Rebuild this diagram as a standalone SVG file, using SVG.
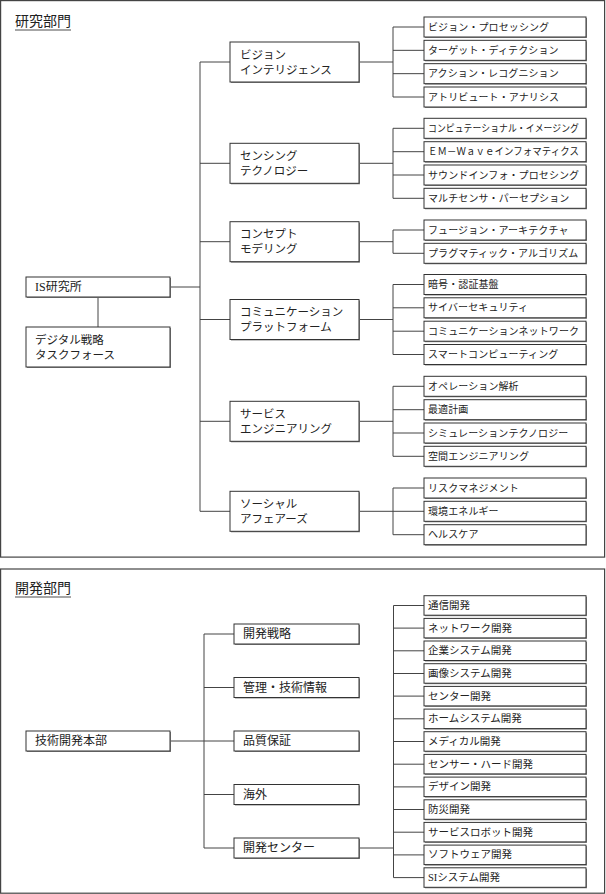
<svg xmlns="http://www.w3.org/2000/svg" width="606" height="894" viewBox="0 0 606 894">
<style>
  text { font-family: "Liberation Serif", "Noto Sans CJK JP", serif; fill: #222; dominant-baseline: central; }
  .panel { fill: #fff; stroke: #444; stroke-width: 1.2; }
  .title { font-size: 14px; dominant-baseline: auto; }
  .uline { stroke: #888; stroke-width: 1.5; }
  .box { fill: #fff; stroke: #333; stroke-width: 1; }
  .sh { fill: #8a8a8a; }
  .line { stroke: #444; stroke-width: 1; fill: none; }
  .t1 { font-size: 10px; letter-spacing: 0.1px; }
  .t2 { font-size: 11.5px; }
  .t3 { font-size: 12px; }
  .t4 { font-size: 10.5px; }
</style>
<defs>
  <g id="rb"><rect class="sh" x="1" y="1" width="162" height="20"/><rect class="box" x="0" y="0" width="162" height="20"/></g>
  <g id="rb2"><rect class="sh" x="1" y="1" width="162" height="19.5"/><rect class="box" x="0" y="0" width="162" height="19.5"/></g>
  <g id="mb"><rect class="sh" x="1" y="1" width="129" height="40"/><rect class="box" x="0" y="0" width="129" height="40"/></g>
  <g id="mb2"><rect class="sh" x="1" y="1" width="125" height="20"/><rect class="box" x="0" y="0" width="125" height="20"/></g>
  <g id="lb"><rect class="sh" x="1" y="1" width="144" height="20"/><rect class="box" x="0" y="0" width="144" height="20"/></g>
  <g id="lb2"><rect class="sh" x="1" y="1" width="144" height="40"/><rect class="box" x="0" y="0" width="144" height="40"/></g>
</defs>

<g id="panels">
  <rect class="panel" x="0.6" y="0.6" width="604" height="556.5"/>
  <text class="title" x="15" y="26">研究部門</text>
  <line class="uline" x1="15" y1="30" x2="71" y2="30"/>
  <rect class="panel" x="0.6" y="569" width="604" height="324.2"/>
  <text class="title" x="15" y="593">開発部門</text>
  <line class="uline" x1="15" y1="597" x2="71" y2="597"/>
</g>

<g id="connectors">
  <path class="line" d="M200 62 V511.3 M170 287 H200 M98 297 V327"/>
  <path class="line" d="M200 62 H230 M200 163.3 H230 M200 241.7 H230 M200 319.5 H230 M200 421.3 H230 M200 511.3 H230"/>
  <path class="line" d="M359 62 H393 M393 27 V97 M393 27 H424 M393 50.33 H424 M393 73.67 H424 M393 97 H424"/>
  <path class="line" d="M359 163.3 H393 M393 128.3 V198.3 M393 128.3 H424 M393 151.7 H424 M393 175 H424 M393 198.3 H424"/>
  <path class="line" d="M359 241.7 H393 M393 230 V253.3 M393 230 H424 M393 253.3 H424"/>
  <path class="line" d="M359 319.5 H393 M393 284.5 V354.5 M393 284.5 H424 M393 307.8 H424 M393 331.2 H424 M393 354.5 H424"/>
  <path class="line" d="M359 421.3 H393 M393 386.3 V456.3 M393 386.3 H424 M393 409.7 H424 M393 433 H424 M393 456.3 H424"/>
  <path class="line" d="M359 511.3 H393 M393 488 V534.7 M393 488 H424 M393 511.3 H424 M393 534.7 H424"/>
  <path class="line" d="M170 741 H234 M204 634 V848 M204 634 H234 M204 687.5 H234 M204 794.5 H234 M204 848 H234"/>
  <path class="line" d="M359 848 H393.5 M393.5 605.5 V877.6"/>
  <path class="line" d="M393.5 605.5 H424 M393.5 628.1 H424 M393.5 650.8 H424 M393.5 673.5 H424 M393.5 696.1 H424 M393.5 718.8 H424 M393.5 741.5 H424 M393.5 764.2 H424 M393.5 786.9 H424 M393.5 809.5 H424 M393.5 832.2 H424 M393.5 854.9 H424 M393.5 877.6 H424"/>
</g>

<g id="is-lab"><use href="#lb" x="26" y="277"/><text class="t3" x="35" y="287">IS研究所</text></g>
<g id="digital-tf"><use href="#lb2" x="26" y="327"/><text class="t2" x="35" y="339.5">デジタル戦略</text><text class="t2" x="35" y="354.5">タスクフォース</text></g>

<g id="vision"><use href="#mb" x="230" y="42"/><text class="t2" x="240" y="54.5">ビジョン</text><text class="t2" x="240" y="69.5">インテリジェンス</text></g>
<g id="sensing"><use href="#mb" x="230" y="143.3"/><text class="t2" x="240" y="155.8">センシング</text><text class="t2" x="240" y="170.8">テクノロジー</text></g>
<g id="concept"><use href="#mb" x="230" y="221.7"/><text class="t2" x="240" y="234.2">コンセプト</text><text class="t2" x="240" y="249.2">モデリング</text></g>
<g id="comm"><use href="#mb" x="230" y="299.5"/><text class="t2" x="240" y="312">コミュニケーション</text><text class="t2" x="240" y="327">プラットフォーム</text></g>
<g id="service"><use href="#mb" x="230" y="401.3"/><text class="t2" x="240" y="413.8">サービス</text><text class="t2" x="240" y="428.8">エンジニアリング</text></g>
<g id="social"><use href="#mb" x="230" y="491.3"/><text class="t2" x="240" y="503.8">ソーシャル</text><text class="t2" x="240" y="518.8">アフェアーズ</text></g>

<g id="r1"><use href="#rb" x="424" y="17"/><text class="t1" x="428" y="27">ビジョン・プロセッシング</text></g>
<g id="r2"><use href="#rb" x="424" y="40.33"/><text class="t1" x="428" y="50.33">ターゲット・ディテクション</text></g>
<g id="r3"><use href="#rb" x="424" y="63.67"/><text class="t1" x="428" y="73.67">アクション・レコグニション</text></g>
<g id="r4"><use href="#rb" x="424" y="87"/><text class="t1" x="428" y="97">アトリビュート・アナリシス</text></g>
<g id="r5"><use href="#rb" x="424" y="118.3"/><text class="t1" x="428" y="128.3" textLength="151" lengthAdjust="spacingAndGlyphs">コンピュテーショナル・イメージング</text></g>
<g id="r6"><use href="#rb" x="424" y="141.7"/><text class="t1" x="428" y="151.7" textLength="151" lengthAdjust="spacingAndGlyphs">ＥＭ－Ｗａｖｅインフォマティクス</text></g>
<g id="r7"><use href="#rb" x="424" y="165"/><text class="t1" x="428" y="175">サウンドインフォ・プロセシング</text></g>
<g id="r8"><use href="#rb" x="424" y="188.3"/><text class="t1" x="428" y="198.3">マルチセンサ・パーセプション</text></g>
<g id="r9"><use href="#rb" x="424" y="220"/><text class="t1" x="428" y="230">フュージョン・アーキテクチャ</text></g>
<g id="r10"><use href="#rb" x="424" y="243.3"/><text class="t1" x="428" y="253.3">プラグマティック・アルゴリズム</text></g>
<g id="r11"><use href="#rb" x="424" y="274.5"/><text class="t1" x="428" y="284.5">暗号・認証基盤</text></g>
<g id="r12"><use href="#rb" x="424" y="297.8"/><text class="t1" x="428" y="307.8">サイバーセキュリティ</text></g>
<g id="r13"><use href="#rb" x="424" y="321.2"/><text class="t1" x="428" y="331.2">コミュニケーションネットワーク</text></g>
<g id="r14"><use href="#rb" x="424" y="344.5"/><text class="t1" x="428" y="354.5">スマートコンピューティング</text></g>
<g id="r15"><use href="#rb" x="424" y="376.3"/><text class="t1" x="428" y="386.3">オペレーション解析</text></g>
<g id="r16"><use href="#rb" x="424" y="399.7"/><text class="t1" x="428" y="409.7">最適計画</text></g>
<g id="r17"><use href="#rb" x="424" y="423"/><text class="t1" x="428" y="433">シミュレーションテクノロジー</text></g>
<g id="r18"><use href="#rb" x="424" y="446.3"/><text class="t1" x="428" y="456.3">空間エンジニアリング</text></g>
<g id="r19"><use href="#rb" x="424" y="478"/><text class="t1" x="428" y="488">リスクマネジメント</text></g>
<g id="r20"><use href="#rb" x="424" y="501.3"/><text class="t1" x="428" y="511.3">環境エネルギー</text></g>
<g id="r21"><use href="#rb" x="424" y="524.7"/><text class="t1" x="428" y="534.7">ヘルスケア</text></g>

<g id="hq"><use href="#lb" x="26" y="731"/><text class="t3" x="35" y="741">技術開発本部</text></g>
<g id="d-strategy"><use href="#mb2" x="234" y="624"/><text class="t3" x="243" y="634">開発戦略</text></g>
<g id="d-mgmt"><use href="#mb2" x="234" y="677.5"/><text class="t3" x="243" y="687.5">管理・技術情報</text></g>
<g id="d-qa"><use href="#mb2" x="234" y="731"/><text class="t3" x="243" y="741">品質保証</text></g>
<g id="d-overseas"><use href="#mb2" x="234" y="784.5"/><text class="t3" x="243" y="794.5">海外</text></g>
<g id="d-center"><use href="#mb2" x="234" y="838"/><text class="t3" x="243" y="848">開発センター</text></g>

<g id="c1"><use href="#rb2" x="424" y="595.7"/><text class="t4" x="428" y="605.5">通信開発</text></g>
<g id="c2"><use href="#rb2" x="424" y="618.4"/><text class="t4" x="428" y="628.1">ネットワーク開発</text></g>
<g id="c3"><use href="#rb2" x="424" y="641"/><text class="t4" x="428" y="650.8">企業システム開発</text></g>
<g id="c4"><use href="#rb2" x="424" y="663.7"/><text class="t4" x="428" y="673.5">画像システム開発</text></g>
<g id="c5"><use href="#rb2" x="424" y="686.4"/><text class="t4" x="428" y="696.1">センター開発</text></g>
<g id="c6"><use href="#rb2" x="424" y="709.1"/><text class="t4" x="428" y="718.8">ホームシステム開発</text></g>
<g id="c7"><use href="#rb2" x="424" y="731.7"/><text class="t4" x="428" y="741.5">メディカル開発</text></g>
<g id="c8"><use href="#rb2" x="424" y="754.4"/><text class="t4" x="428" y="764.2">センサー・ハード開発</text></g>
<g id="c9"><use href="#rb2" x="424" y="777.1"/><text class="t4" x="428" y="786.9">デザイン開発</text></g>
<g id="c10"><use href="#rb2" x="424" y="799.8"/><text class="t4" x="428" y="809.5">防災開発</text></g>
<g id="c11"><use href="#rb2" x="424" y="822.4"/><text class="t4" x="428" y="832.2">サービスロボット開発</text></g>
<g id="c12"><use href="#rb2" x="424" y="845.1"/><text class="t4" x="428" y="854.9">ソフトウェア開発</text></g>
<g id="c13"><use href="#rb2" x="424" y="867.8"/><text class="t4" x="428" y="877.6">SIシステム開発</text></g>
</svg>
